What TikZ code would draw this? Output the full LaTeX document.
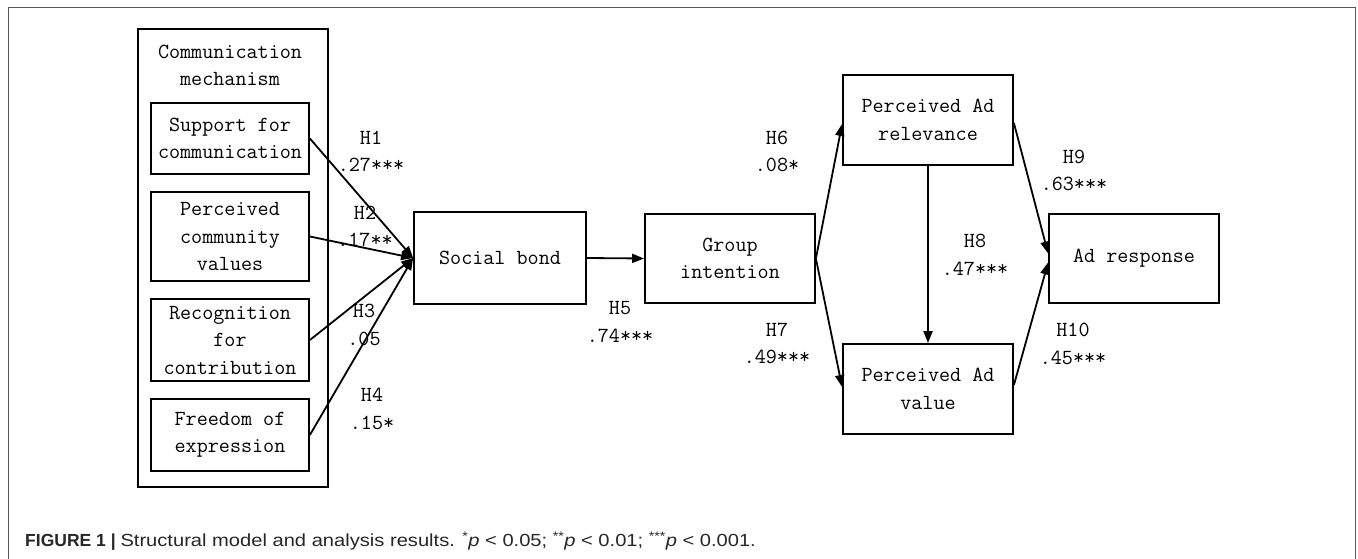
\documentclass[tikz,border=0pt]{standalone}
\usepackage{fontspec}
\setmainfont{Liberation Sans}
\newfontfamily\capfont{Liberation Sans}[FakeStretch=1.15]
\usetikzlibrary{arrows.meta,calc}
\begin{document}
\begin{tikzpicture}[x=1pt,y=-1pt,
  blk/.style={draw, line width=1.8pt, inner sep=0pt, align=center, font=\ttfamily\fontsize{21.5}{27.5}\selectfont},
  lbl/.style={align=center, inner sep=0pt, font=\ttfamily\fontsize{21.5}{27.5}\selectfont},
  arr/.style={line width=1.8pt, -{Triangle[length=12pt,width=9pt]}}]
\useasboundingbox (0,0) rectangle (1358,559);
\draw[line width=1pt, black!65] (8,559) -- (8,8) -- (1355,8) -- (1355,559);
% container
\node[blk, minimum width=190pt, minimum height=458pt] (cm) at (233,258) {};
\node[lbl] (cmt) at (230,65.5) {Communication\\mechanism};
\node[blk, minimum width=158pt, minimum height=71pt] (b1) at (230,138.5) {Support for\\communication};
\node[blk, minimum width=158pt, minimum height=89pt] (b2) at (230,236.5) {Perceived\\community\\values};
\node[blk, minimum width=158pt, minimum height=82pt] (b3) at (230,340) {Recognition\\for\\contribution};
\node[blk, minimum width=158pt, minimum height=72pt] (b4) at (230,435) {Freedom of\\expression};
\node[blk, minimum width=172pt, minimum height=92pt] (sb) at (500,258) {Social bond};
\node[blk, minimum width=170pt, minimum height=89pt] (gi) at (730,258.5) {Group\\intention};
\node[blk, minimum width=170pt, minimum height=90pt] (par) at (928,120) {Perceived Ad\\relevance};
\node[blk, minimum width=170pt, minimum height=90pt] (pav) at (928,389) {Perceived Ad\\value};
\node[blk, minimum width=170pt, minimum height=89pt] (ar) at (1134,258.5) {Ad response};
% connectors
\draw[arr] (b1.east) -- (sb.west);
\draw[arr] (b2.east) -- (sb.west);
\draw[arr] (b3.east) -- (sb.west);
\draw[arr] (b4.east) -- (sb.west);
\draw[arr] (sb.east) -- (gi.west);
\draw[arr] (gi.east) -- ([yshift=-4pt]par.west);
\draw[arr] (gi.east) -- ([yshift=2pt]pav.west);
\draw[arr] (par.south) -- (pav.north);
\draw[arr] ([yshift=-3pt]par.east) -- ([yshift=5pt]ar.west);
\draw[arr] ([yshift=4pt]pav.east) -- ([yshift=-4pt]ar.west);
% labels
\node[lbl] (h1) at (371,151.5) {H1\\.27***};
\node[lbl] (h2) at (365,226.5) {H2\\.17**};
\node[lbl] (h3) at (364,325) {H3\\.05};
\node[lbl] (h4) at (372,409) {H4\\.15*};
\node[lbl] (h5) at (620,322) {H5\\.74***};
\node[lbl] (h6) at (777,151.5) {H6\\.08*};
\node[lbl] (h7) at (777,343.5) {H7\\.49***};
\node[lbl] (h8) at (975,255) {H8\\.47***};
\node[lbl] (h9) at (1074,170.5) {H9\\.63***};
\node[lbl] (h10) at (1073,344) {H10\\.45***};
% caption
\node[anchor=west, inner sep=0pt, font=\fontsize{17.5}{20}\selectfont, text=black!85] (cap) at (25,541) {\textbf{FIGURE 1 |} {\capfont Structural model and analysis results. \textsuperscript{*}\textit{p} < 0.05; \textsuperscript{**}\textit{p} < 0.01; \textsuperscript{***}\textit{p} < 0.001.}};
\end{tikzpicture}
\end{document}
